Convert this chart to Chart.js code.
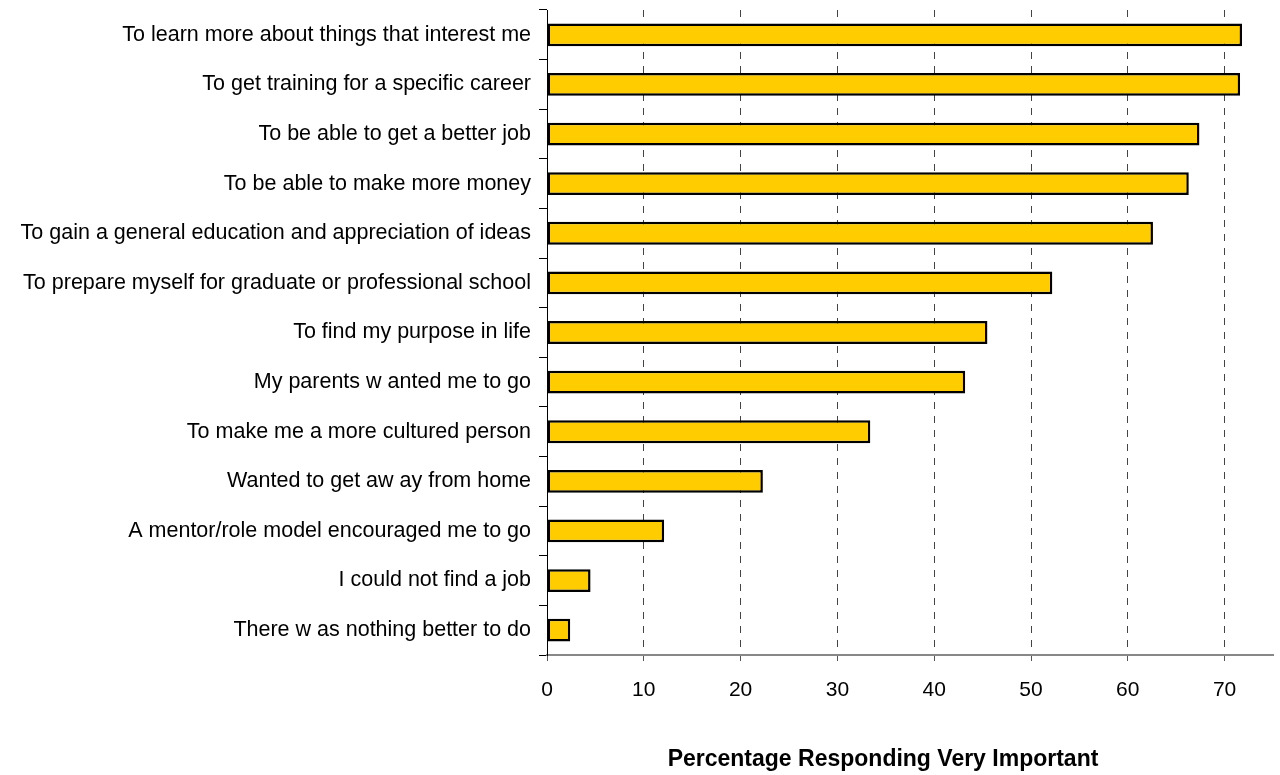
<!DOCTYPE html>
<html>
<head>
<meta charset="utf-8">
<script src="https://cdn.jsdelivr.net/npm/chart.js@4"></script>
<style>
  html, body { margin: 0; padding: 0; background: #fff; }
  #wrap { width: 1280px; height: 775px; }
</style>
</head>
<body>
<div id="wrap"><canvas id="reasonsChart" width="1280" height="775"></canvas></div>
<script>
// Data
const reasons = [
    'To learn more about things that interest me',
    'To get training for a specific career',
    'To be able to get a better job',
    'To be able to make more money',
    'To gain a general education and appreciation of ideas',
    'To prepare myself for graduate or professional school',
    'To find my purpose in life',
    'My parents w anted me to go',
    'To make me a more cultured person',
    'Wanted to get aw ay from home',
    'A mentor/role model encouraged me to go',
    'I could not find a job',
    'There w as nothing better to do'
];
const veryImportant = [71.8, 71.6, 67.4, 66.3, 62.6, 52.2, 45.5, 43.2, 33.4, 22.3, 12.1, 4.5, 2.4];
const xTicks = [0, 10, 20, 30, 40, 50, 60, 70];
const xMax = 75;
const xTitle = 'Percentage Responding Very Important';

const FONT = "'Liberation Sans', Arial, sans-serif";

// axis title drawn under the tick labels
const xTitlePlugin = {
    id: 'xTitle',
    afterDraw(chart) {
        const ctx = chart.ctx;
        const area = chart.chartArea;
        ctx.save();
        ctx.font = 'bold 23px ' + FONT;
        ctx.fillStyle = '#000';
        ctx.textAlign = 'center';
        ctx.textBaseline = 'middle';
        ctx.fillText(xTitle, (area.left + area.right) / 2 - 27, 760);
        ctx.restore();
    }
};

const ctx = document.getElementById('reasonsChart').getContext('2d');
const reasonsChart = new Chart(ctx, {
    type: 'bar',
    data: {
        labels: reasons,
        datasets: [{
            data: veryImportant,
            backgroundColor: '#FFCC00',
            borderColor: '#000',
            borderWidth: 2.5,
            borderSkipped: false,
            barPercentage: 0.46,
            categoryPercentage: 1
        }]
    },
    options: {
        indexAxis: 'y',
        responsive: false,
        animation: false,
        layout: { padding: { top: 10, right: 7, left: 0, bottom: 0 } },
        plugins: {
            legend: { display: false },
            tooltip: { enabled: false }
        },
        scales: {
            x: {
                min: 0,
                max: xMax,
                afterBuildTicks(scale) {
                    scale.ticks = xTicks.map(v => ({ value: v }));
                },
                afterFit(scale) { scale.height = 120; },
                ticks: {
                    font: { family: FONT, size: 21 },
                    color: '#000',
                    padding: 17
                },
                grid: {
                    color: '#444',
                    lineWidth: 1,
                    tickLength: 6,
                    tickColor: '#555',
                    tickBorderDash: []
                },
                border: { display: true, color: '#888', width: 2, dash: [7, 7] }
            },
            y: {
                afterFit(scale) {
                    scale.width = 547;
                    scale.paddingTop = 0;
                    scale.paddingBottom = 0;
                },
                ticks: {
                    font: { family: FONT, size: 21.5 },
                    color: '#000',
                    padding: 8,
                    autoSkip: false
                },
                grid: {
                    offset: true,
                    drawOnChartArea: false,
                    tickLength: 8,
                    tickColor: '#000'
                },
                border: { display: true, color: '#000', width: 1 }
            }
        }
    },
    plugins: [xTitlePlugin]
});
</script>
</body>
</html>
